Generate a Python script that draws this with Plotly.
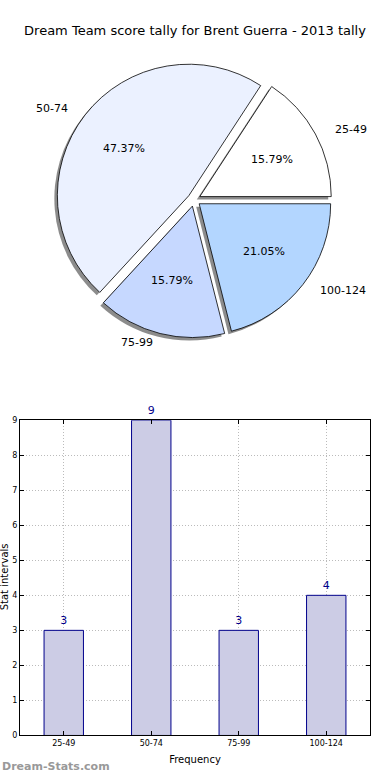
import math
import plotly.graph_objects as go

# ---- data ----
categories = ["25-49", "50-74", "75-99", "100-124"]
counts = [3, 9, 3, 4]
slice_colors = ["#FFFFFF", "#EBF1FF", "#C6D8FF", "#B3D6FF"]
y_ticks = list(range(0, 10))

W, H = 390, 780
FONT = "DejaVu Sans"

# pie geometry (pixels)
cx, cy, r = 194, 198, 133
txt_rx, txt_ry = 137, 130  # radii used to place the pie texts
pull = 0.05
half = r * (1 + pull)
total = sum(counts)
# first slice should start at 3 o'clock going counterclockwise
rot = 90 - 360 * counts[0] / total


def dom(cx_px, cy_px, half_px):
    return dict(
        x=[(cx_px - half_px) / W, (cx_px + half_px) / W],
        y=[1 - (cy_px + half_px) / H, 1 - (cy_px - half_px) / H],
    )


pulls = [pull] * len(categories)

fig = go.Figure()

# shadow
fig.add_trace(go.Pie(
    labels=categories, values=counts, sort=False, direction="counterclockwise",
    rotation=rot, pull=pulls, domain=dom(cx - 3, cy + 3, half),
    marker=dict(colors=["rgba(0,0,0,0.45)"] * 4, line=dict(width=0)),
    textinfo="none", hoverinfo="skip", showlegend=False,
))

# main pie
fig.add_trace(go.Pie(
    labels=categories, values=counts, sort=False, direction="counterclockwise",
    rotation=rot, pull=pulls, domain=dom(cx, cy, half),
    marker=dict(colors=slice_colors, line=dict(color="#000000", width=0.8)),
    textinfo="none", showlegend=False,
))

# pie texts: labels at 1.1 r and percentages at 0.6 r along each slice's mid angle
annotations = []
cum = 0
for lab, v in zip(categories, counts):
    mid = 2 * math.pi * (cum + v / 2) / total
    cum += v
    c, s = math.cos(mid), math.sin(mid)
    for fac, txt, anchor in (
        (0.6 + pull, f"{100 * v / total:.2f}%", "center"),
        (1.1 + pull, lab, "left" if c > 0 else "right"),
    ):
        px = cx + fac * txt_rx * c
        py = cy - fac * txt_ry * s
        annotations.append(dict(
            text=txt, xref="paper", yref="paper", x=px / W, y=1 - py / H,
            xanchor=anchor, yanchor="middle", showarrow=False,
            font=dict(family=FONT, size=11, color="#000000"),
        ))

# bar chart
fig.add_trace(go.Bar(
    x=categories, y=counts, width=0.45,
    marker=dict(color="#CCCCE5", line=dict(color="#00008B", width=1)),
    text=[str(v) for v in counts], textposition="outside",
    textfont=dict(family=FONT, size=11, color="#00008B"),
    cliponaxis=False, showlegend=False, hoverinfo="skip",
))

axis_common = dict(
    showline=True, linecolor="#000000", linewidth=1, mirror="ticks",
    ticks="inside", ticklen=4, tickcolor="#000000",
    showgrid=True, gridcolor="#BBBBBB", griddash="1px,2px", gridwidth=1,
    zeroline=False, tickfont=dict(family=FONT, size=8, color="#000000"),
)

annotations += [
    dict(text="Stat intervals", textangle=-90, xref="paper", yref="paper",
         x=4 / W, y=1 - 580 / H, xanchor="center", yanchor="middle",
         showarrow=False, font=dict(family=FONT, size=10, color="#000000")),
    dict(text="<b>Dream-Stats.com</b>", xref="paper", yref="paper",
         x=0, y=1 - 771 / H, xanchor="left", yanchor="middle",
         showarrow=False, font=dict(family=FONT, size=11, color="#999999")),
]

fig.update_layout(
    width=W, height=H,
    margin=dict(l=0, r=0, t=0, b=0),
    paper_bgcolor="#FFFFFF", plot_bgcolor="#FFFFFF",
    font=dict(family=FONT, color="#000000"),
    title=dict(
        text="Dream Team score tally for Brent Guerra - 2013 tally",
        x=0.5, xanchor="center", y=1 - 30 / H, yanchor="middle",
        font=dict(family=FONT, size=13, color="#000000"),
    ),
    xaxis=dict(
        domain=[20 / W, 370 / W], range=[-0.5, 3.5],
        title=dict(text="Frequency", font=dict(family=FONT, size=10), standoff=8),
        **axis_common,
    ),
    yaxis=dict(
        domain=[1 - 740 / H, 1 - 421 / H], range=[0, 9],
        tickvals=y_ticks, **axis_common,
    ),
    annotations=annotations,
    hovermode=False,
)

fig.write_html(
    "out.html",
    config={"displayModeBar": False},
    post_script="document.body.style.margin='0';document.body.style.overflow='hidden';",
)
